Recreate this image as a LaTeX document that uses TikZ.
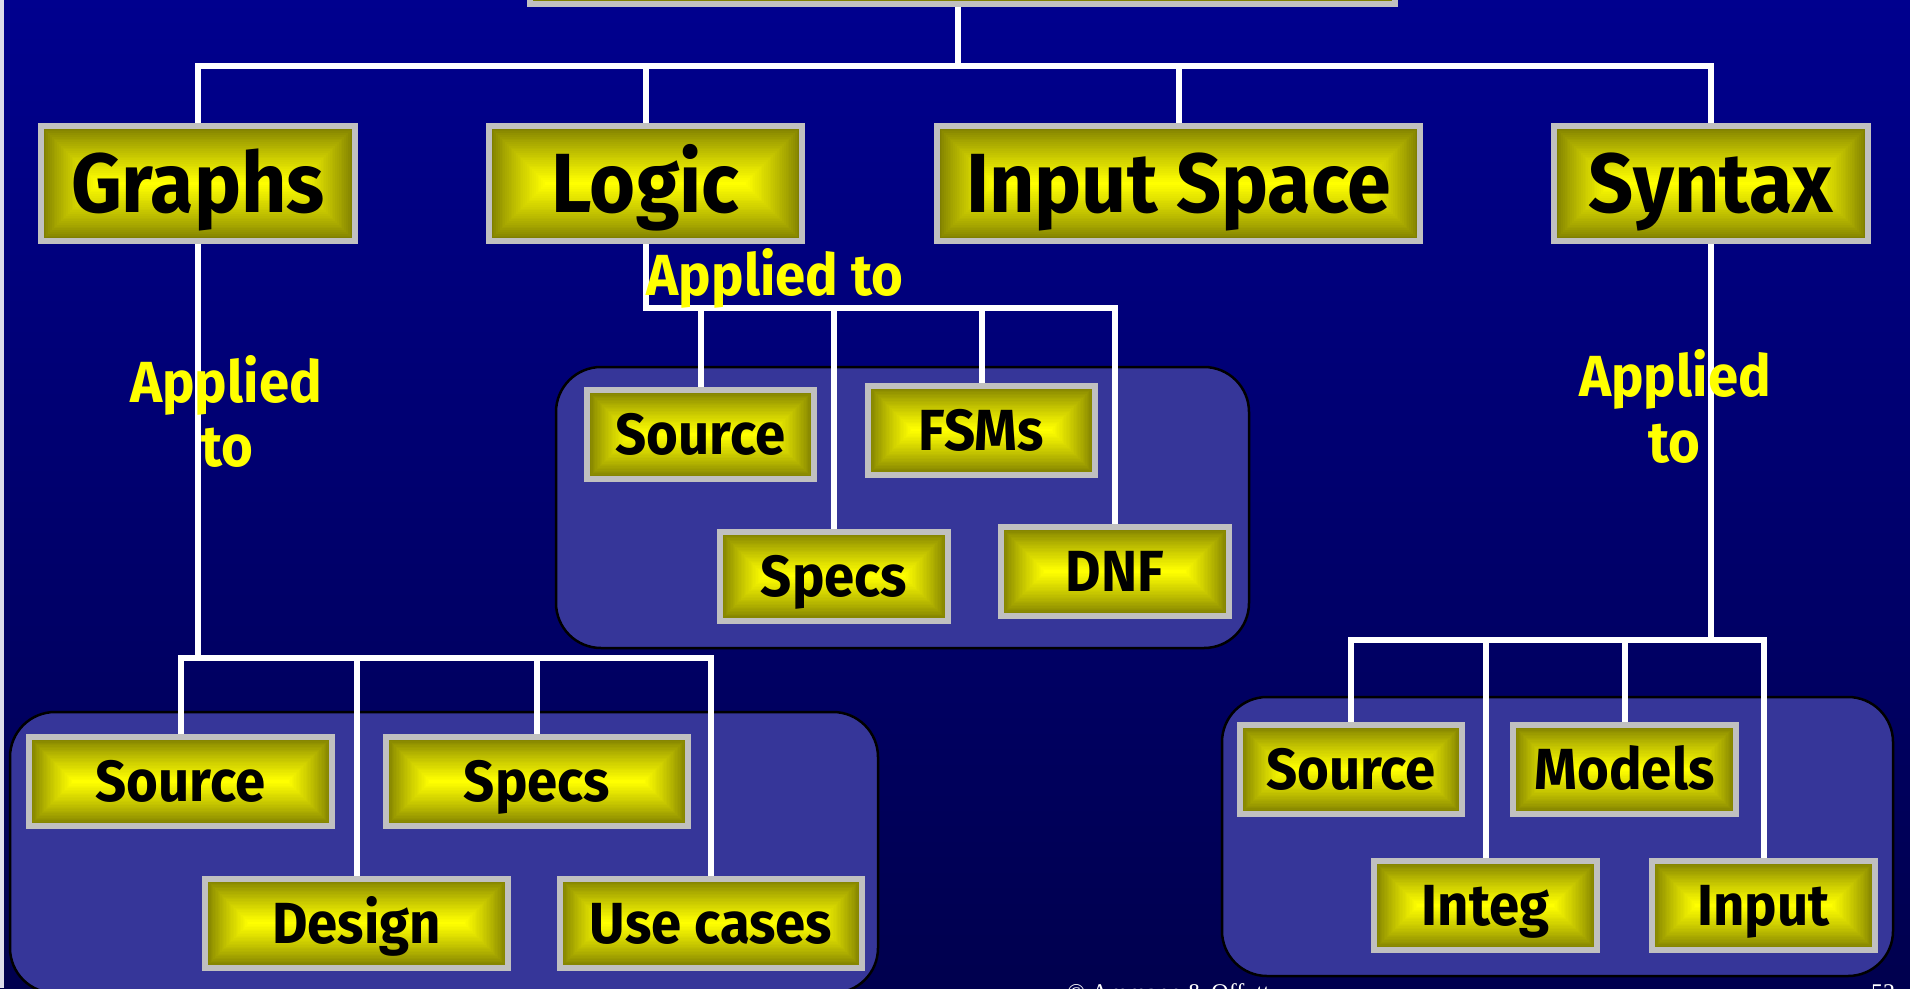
\documentclass[tikz,border=0pt]{standalone}
\usepackage{fontspec}
\setmainfont[FakeStretch=0.94]{Fira Sans}
\newfontfamily\footfont{Liberation Serif}
\usetikzlibrary{calc}

\definecolor{bgtop}{RGB}{0,0,142}
\definecolor{bgbot}{RGB}{0,0,78}
\definecolor{edgecol}{RGB}{220,220,235}
\definecolor{boxgray}{RGB}{192,192,192}
\definecolor{boxolive}{RGB}{118,118,0}
\definecolor{boxyellow}{RGB}{255,255,0}
\definecolor{grpblue}{RGB}{54,54,153}
\definecolor{lblyellow}{RGB}{255,255,0}

\pgfdeclarelayer{bgl}
\pgfdeclarelayer{grp}
\pgfdeclarelayer{wires}
\pgfsetlayers{bgl,grp,wires,main}

% "from centre" fill: nested rectangles with equal insets, olive at the rim,
% yellow along the centre line
\newcommand\ctrshade{%
  \foreach \k in {0,...,31}{%
    \pgfmathsetmacro\mixpct{100*(\k/31)^0.8}%
    \fill[boxyellow!\mixpct!boxolive]
      let \p1=(path picture bounding box.south west),
          \p2=(path picture bounding box.north east),
          \n1={(\y2-\y1)/2*\k/32} in
      ({\x1+\n1},{\y1+\n1}) rectangle ({\x2-\n1},{\y2-\n1});
  }%
}

\tikzset{
  leafbase/.style={rectangle, draw=boxgray, line width=6pt, fill=boxolive,
    inner sep=0pt, text=black, text depth=0pt, path picture={\ctrshade}},
  headbox/.style={leafbase, font=\bfseries\fontsize{84}{88}\selectfont,
    text height=58pt, minimum height=115pt},
  subbox/.style={leafbase, font=\bfseries\fontsize{58}{60}\selectfont,
    text height=40pt, minimum height=89pt},
  grpbox/.style={rectangle, rounded corners=45pt, fill=grpblue, draw=black,
    line width=2.5pt, inner sep=0pt},
  wire/.style={draw=white, line width=6pt},
  lbl/.style={text=lblyellow, font=\bfseries\fontsize{58}{63}\selectfont,
    inner sep=0pt},
  foot/.style={text=white, font=\footfont\fontsize{24}{26}\selectfont,
    inner sep=0pt}
}

\begin{document}
\begin{tikzpicture}[x=1pt,y=-1pt]
\useasboundingbox (0,0) rectangle (1910,988);

% slide background
\begin{pgfonlayer}{bgl}
  \fill[top color=bgtop, bottom color=bgbot] (0,0) rectangle (1910,988);
  \fill[edgecol] (0,0) rectangle (4,988);
\end{pgfonlayer}

% root and first level
\node[headbox, minimum width=865pt, minimum height=114pt] (root) at (962.5,-53) {};
\node[headbox, minimum width=314pt] (graphs)  at (198,183.5)    {Graphs};
\node[headbox, minimum width=313pt] (logic)   at (645.5,183.5)  {Logic};
\node[headbox, minimum width=483pt] (inspace) at (1178.5,183.5) {Input Space};
\node[headbox, minimum width=314pt] (syntax)  at (1711,183.5)   {Syntax};

% group plates
\begin{pgfonlayer}{grp}
  \node[grpbox, minimum width=868pt, minimum height=281pt] (ggrp) at (444,852.5) {};
  \node[grpbox, minimum width=693pt, minimum height=281pt] (lgrp) at (902.5,507.5) {};
  \node[grpbox, minimum width=671pt, minimum height=279pt] (sgrp) at (1557.5,836.5) {};
\end{pgfonlayer}

% logic targets
\node[subbox, minimum width=227pt] (lsrc)  at (700.5,434.5) {Source};
\node[subbox, minimum width=227pt] (lfsm)  at (981.5,430)   {FSMs};
\node[subbox, minimum width=228pt] (lspec) at (834,576)     {Specs};
\node[subbox, minimum width=228pt] (ldnf)  at (1115,571.5)  {DNF};

% graph targets
\node[subbox, minimum width=303pt] (gsrc)  at (180.5,781.5) {Source};
\node[subbox, minimum width=302pt] (gspec) at (537,781.5)   {Specs};
\node[subbox, minimum width=303pt] (gdes)  at (356.5,923)   {Design};
\node[subbox, minimum width=302pt] (guse)  at (711,923)     {Use cases};

% syntax targets
\node[subbox, minimum width=222pt] (ssrc) at (1351,769.5)   {Source};
\node[subbox, minimum width=223pt] (smod) at (1624.5,769.5) {Models};
\node[subbox, minimum width=223pt] (sint) at (1485.5,905.5) {Integ};
\node[subbox, minimum width=223pt] (sinp) at (1763.5,905.5) {Input};

% connectors
\coordinate (b0) at (958,65.5);
\coordinate (lb) at (645.5,308);
\coordinate (gb) at (198,658);
\coordinate (sb) at (1711,640);
\begin{pgfonlayer}{wires}
  \draw[wire] (root.south -| b0) -- (b0);
  \draw[wire] (graphs.north) |- (b0) -| (syntax.north);
  \draw[wire] (logic.north) -- (logic.north |- b0);
  \draw[wire] (inspace.north) -- (inspace.north |- b0);

  \draw[wire] (logic.south) |- (ldnf.north |- lb) -- (ldnf.north);
  \draw[wire] (lsrc.north) -- (lsrc.north |- lb);
  \draw[wire] (lspec.north) -- (lspec.north |- lb);
  \draw[wire] (lfsm.north) -- (lfsm.north |- lb);

  \draw[wire] (graphs.south) -- (gb);
  \draw[wire] (gsrc.north) |- (guse.north |- gb) -- (guse.north);
  \draw[wire] (gdes.north) -- (gdes.north |- gb);
  \draw[wire] (gspec.north) -- (gspec.north |- gb);

  \draw[wire] (syntax.south) -- (sb);
  \draw[wire] (ssrc.north) |- (sinp.north |- sb) -- (sinp.north);
  \draw[wire] (sint.north) -- (sint.north |- sb);
  \draw[wire] (smod.north) -- (smod.north |- sb);
\end{pgfonlayer}

% edge labels
\node[lbl, anchor=base] (apg)  at (226,402)  {Applied};
\node[lbl, anchor=base] (apgb) at (227,466)  {to};
\node[lbl, anchor=base] (apl)  at (775,295)  {Applied to};
\node[lbl, anchor=base] (aps)  at (1675,396) {Applied};
\node[lbl, anchor=base] (apsb) at (1674,462) {to};

% footer
\node[foot, anchor=base west] (copy) at (1067,1000) {© Ammann \& Offutt};
\node[foot, anchor=base west] (pgno) at (1871,1000) {52};
\end{tikzpicture}
\end{document}
